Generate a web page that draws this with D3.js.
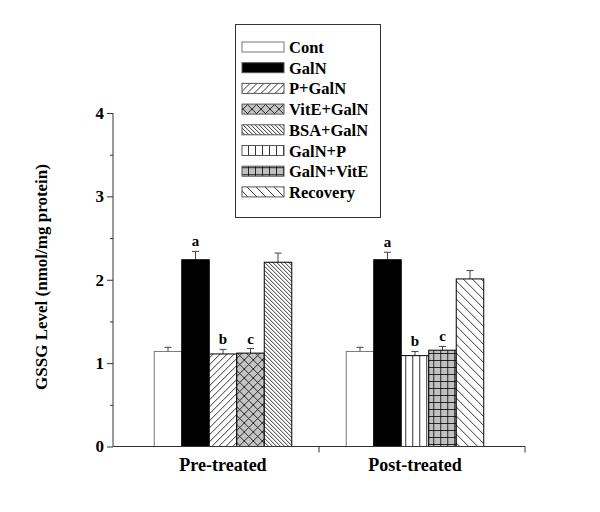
<!DOCTYPE html>
<html>
<head>
<meta charset="utf-8">
<script src="https://cdn.jsdelivr.net/npm/d3@7"></script>
<style>
  html, body { margin: 0; padding: 0; background: #fff; }
  svg { display: block; }
  text { font-family: "Liberation Serif", "Times New Roman", serif; font-weight: bold; fill: #000; }
</style>
</head>
<body>
<svg id="chart" width="600" height="512"></svg>
<script>
// ---- data ----
const groups = ["Pre-treated", "Post-treated"];
const preSeries = ["Cont", "GalN", "P+GalN", "VitE+GalN", "BSA+GalN"];
const preValues = [1.14, 2.24, 1.11, 1.12, 2.21];
const preErrors = [0.05, 0.10, 0.055, 0.055, 0.11];
const preLetters = ["", "a", "b", "c", ""];
const postSeries = ["Cont", "GalN", "GalN+P", "GalN+VitE", "Recovery"];
const postValues = [1.14, 2.24, 1.09, 1.155, 2.01];
const postErrors = [0.05, 0.09, 0.05, 0.045, 0.10];
const postLetters = ["", "a", "b", "c", ""];
const legendSeries = ["Cont", "GalN", "P+GalN", "VitE+GalN", "BSA+GalN", "GalN+P", "GalN+VitE", "Recovery"];
const yTicks = [0, 1, 2, 3, 4];
const yLabel = "GSSG Level (nmol/mg protein)";

// ---- layout ----
const svg = d3.select("#chart");
const plot = { left: 113, right: 525, top: 113, bottom: 446.5 };

const y = d3.scaleLinear().domain([0, 4]).range([plot.bottom, plot.top]);
const x = d3.scaleBand().domain(groups).range([plot.left, plot.right]).paddingInner(0).paddingOuter(0.073);
const slotIdx = [0, 1, 2, 3, 4];
const xs = d3.scaleBand().domain(slotIdx).range([0, 137.5]).padding(0);

// ---- patterns ----
const defs = svg.append("defs");
function pat(id, size, bg, draw) {
  const p = defs.append("pattern").attr("id", id).attr("patternUnits", "userSpaceOnUse")
    .attr("width", size).attr("height", size);
  p.append("rect").attr("width", size).attr("height", size).attr("fill", bg);
  draw(p, size);
}
const st = (sel) => sel.attr("stroke", "#000").attr("stroke-width", 0.8).attr("fill", "none");
pat("fwd", 7, "#fff", (p, s) => { st(p.append("path").attr("d", `M0,${s} L${s},0 M${-s/2},${s/2} L${s/2},${-s/2} M${s/2},${s*1.5} L${s*1.5},${s/2}`)); });
pat("cross", 9, "#c4c4c4", (p, s) => { st(p.append("path").attr("d", `M0,0 L${s},${s} M0,${s} L${s},0`)); });
pat("backDense", 4, "#fff", (p, s) => { st(p.append("path").attr("d", `M0,0 L${s},${s} M${-s/2},${s/2} L${s/2},${s*1.5} M${s/2},${-s/2} L${s*1.5},${s/2}`).attr("stroke-width", 0.7)); });
pat("vert", 7, "#fff", (p, s) => { st(p.append("path").attr("d", `M${s/2},0 L${s/2},${s}`)); });
pat("grid", 7, "#c0c0c0", (p, s) => { st(p.append("path").attr("d", `M${s/2},0 L${s/2},${s} M0,${s/2} L${s},${s/2}`).attr("stroke", "#333")); });
pat("back", 9, "#fff", (p, s) => { st(p.append("path").attr("d", `M0,0 L${s},${s} M${-s/2},${s/2} L${s/2},${s*1.5} M${s/2},${-s/2} L${s*1.5},${s/2}`)); });

const fills = {
  "Cont": "#fff", "GalN": "#000", "P+GalN": "url(#fwd)", "VitE+GalN": "url(#cross)",
  "BSA+GalN": "url(#backDense)", "GalN+P": "url(#vert)", "GalN+VitE": "url(#grid)", "Recovery": "url(#back)"
};
const strokes = { "Cont": "#777" };

// ---- bars ----
const groupData = [
  { g: groups[0], series: preSeries, values: preValues, errors: preErrors, letters: preLetters },
  { g: groups[1], series: postSeries, values: postValues, errors: postErrors, letters: postLetters }
];
groupData.forEach(gd => {
  const gx = x(gd.g) + (x.bandwidth() - xs.range()[1]) / 2;
  const gg = svg.append("g").attr("transform", `translate(${gx},0)`);
  const items = gd.series.map((s, i) => ({ s, i, v: gd.values[i], e: gd.errors[i], l: gd.letters[i] }));
  gg.selectAll("g.err").data(items).join("g").attr("class", "err").each(function (d) {
    const cx = xs(d.i) + xs.bandwidth() / 2;
    const sel = d3.select(this);
    sel.append("line").attr("x1", cx).attr("x2", cx).attr("y1", y(d.v)).attr("y2", y(d.v + d.e))
      .attr("stroke", "#444").attr("stroke-width", 1);
    sel.append("line").attr("x1", cx - 3.5).attr("x2", cx + 3.5).attr("y1", y(d.v + d.e)).attr("y2", y(d.v + d.e))
      .attr("stroke", "#444").attr("stroke-width", 1);
  });
  gg.selectAll("rect.bar").data(items).join("rect").attr("class", "bar")
    .attr("x", d => xs(d.i)).attr("width", xs.bandwidth())
    .attr("y", d => y(d.v)).attr("height", d => y(0) - y(d.v))
    .attr("fill", d => fills[d.s]).attr("stroke", d => strokes[d.s] || "#000").attr("stroke-width", 1);
  gg.selectAll("text.sig").data(items.filter(d => d.l)).join("text").attr("class", "sig")
    .attr("x", d => xs(d.i) + xs.bandwidth() / 2).attr("y", d => y(d.v + d.e) - 5)
    .attr("text-anchor", "middle").attr("font-size", 15).text(d => d.l);
});

// ---- axes ----
const yAxis = d3.axisLeft(y).tickValues(yTicks).tickSize(6).tickPadding(3).tickFormat(d3.format("d"));
const yg = svg.append("g").attr("transform", `translate(${plot.left},0)`).call(yAxis);
yg.select(".domain").attr("d", `M0,${plot.top}V${plot.bottom}`).attr("stroke", "#333");
yg.selectAll(".tick line").attr("stroke", "#333");
yg.selectAll(".tick text").attr("font-size", 17).attr("font-family", "Liberation Serif").attr("font-weight", "bold").attr("fill", "#000");
const yMinor = d3.axisLeft(y).tickValues([0.5, 1.5, 2.5, 3.5]).tickSize(3).tickFormat("");
const ym = svg.append("g").attr("transform", `translate(${plot.left},0)`).call(yMinor);
ym.select(".domain").remove();
ym.selectAll(".tick line").attr("stroke", "#333");

const xg = svg.append("g").attr("transform", `translate(0,${plot.bottom})`);
xg.append("line").attr("x1", plot.left).attr("x2", plot.right).attr("y1", 0).attr("y2", 0).attr("stroke", "#333");
const boundaries = [x(groups[0]) + x.bandwidth(), plot.right];
xg.selectAll("line.tk").data(boundaries).join("line").attr("class", "tk")
  .attr("x1", d => d).attr("x2", d => d).attr("y1", 0).attr("y2", 6).attr("stroke", "#333");
xg.selectAll("text.gl").data(groups).join("text").attr("class", "gl")
  .attr("x", d => x(d) + x.bandwidth() / 2).attr("y", 24)
  .attr("text-anchor", "middle").attr("font-size", 18).text(d => d);

svg.append("text").attr("transform", `translate(47,277) rotate(-90)`)
  .attr("text-anchor", "middle").attr("font-size", 17).text(yLabel);

// ---- legend ----
const lg = svg.append("g");
lg.append("rect").attr("x", 235.5).attr("y", 24.5).attr("width", 145).attr("height", 193)
  .attr("fill", "#fff").attr("stroke", "#333").attr("stroke-width", 1);
const rows = lg.selectAll("g.row").data(legendSeries).join("g").attr("class", "row")
  .attr("transform", (d, i) => `translate(0,${47 + i * 20.7})`);
rows.append("rect").attr("x", 242).attr("y", -5).attr("width", 42).attr("height", 10)
  .attr("fill", d => fills[d]).attr("stroke", d => strokes[d] || "#555").attr("stroke-width", 1);
rows.append("text").attr("x", 289).attr("y", 6).attr("font-size", 16.5).text(d => d);
</script>
</body>
</html>
